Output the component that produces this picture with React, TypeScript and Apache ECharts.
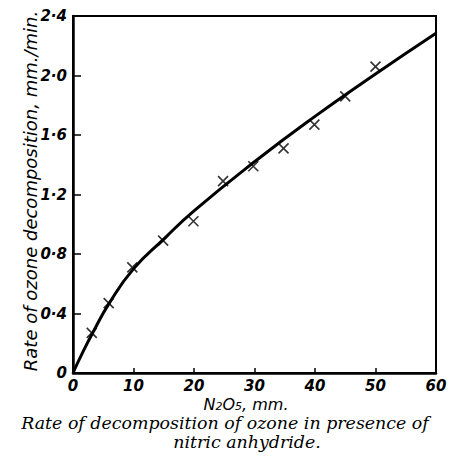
import React, { useEffect, useRef } from "react";
import * as echarts from "echarts";

const obsX = [3.1, 5.9, 9.8, 14.9, 19.9, 24.8, 29.8, 34.8, 39.9, 45.0, 50.0];
const obsY = [0.27, 0.47, 0.71, 0.89, 1.02, 1.29, 1.39, 1.51, 1.67, 1.86, 2.06];

const curveX = [0, 1.5, 3.2, 6, 10, 15, 20, 30, 40, 50, 60];
const curveY = [0, 0.13, 0.265, 0.47, 0.7, 0.9, 1.09, 1.42, 1.725, 2.01, 2.284];

const xTicks = [0, 10, 20, 30, 40, 50, 60];
const yTicks = [0, 0.4, 0.8, 1.2, 1.6, 2.0, 2.4];

const yTitle = "Rate of ozone decomposition, mm./min.";
const captionLines = ["Rate of decomposition of ozone in presence of", "nitric anhydride."];

const labelFont = {
  fontFamily: "DejaVu Sans",
  fontStyle: "italic" as const,
  fontWeight: "bold" as const,
  fontSize: 15,
  color: "#000",
};

export default function App() {
  const ref = useRef<HTMLDivElement>(null);
  useEffect(() => {
    if (!ref.current) return;
    const chart = echarts.init(ref.current, null, { renderer: "svg" });
    const option: any = {
      animation: false,
      backgroundColor: "#fff",
      grid: {
        left: 73,
        top: 16,
        right: 17,
        bottom: 89,
        show: true,
        borderColor: "#000",
        borderWidth: 2,
        backgroundColor: "transparent",
      },
      xAxis: {
        type: "value",
        min: xTicks[0],
        max: xTicks[xTicks.length - 1],
        interval: 10,
        axisLine: { lineStyle: { color: "#000", width: 2.5 } },
        axisTick: { inside: true, length: 5, lineStyle: { color: "#000", width: 1.5 } },
        splitLine: { show: false },
        axisLabel: { ...labelFont, margin: 6, lineHeight: 14 },
      },
      yAxis: {
        type: "value",
        min: yTicks[0],
        max: yTicks[yTicks.length - 1],
        interval: 0.4,
        axisLine: { show: true, lineStyle: { color: "#000", width: 2.5 } },
        axisTick: { show: true, inside: true, length: 8, lineStyle: { color: "#000", width: 1.5 } },
        splitLine: { show: false },
        axisLabel: {
          ...labelFont,
          margin: 6,
          formatter: (v: number) => (v === 0 ? "0" : v.toFixed(1).replace(".", "·")),
        },
      },
      series: [
        {
          type: "line",
          data: curveX.map((x, i) => [x, curveY[i]]),
          smooth: 0.5,
          symbol: "none",
          lineStyle: { color: "#000", width: 3 },
          z: 2,
        },
        {
          type: "scatter",
          data: obsX.map((x, i) => [x, obsY[i]]),
          symbol: "path://M0,0L10,10M10,0L0,10",
          symbolSize: 10,
          itemStyle: { color: "none", borderColor: "#000", borderWidth: 1.6 },
          z: 3,
        },
      ],
      graphic: [
        {
          type: "text",
          x: 30,
          y: 191,
          rotation: Math.PI / 2,
          style: {
            text: yTitle,
            fontFamily: "DejaVu Sans",
            fontStyle: "italic",
            fontSize: 18,
            fill: "#000",
            align: "center",
            verticalAlign: "middle",
          },
        },
        {
          type: "text",
          x: 246,
          y: 406,
          style: {
            rich: {
              a: { fontFamily: "DejaVu Sans", fontStyle: "italic", fontSize: 16, lineHeight: 12, fill: "#000", verticalAlign: "bottom" },
              s: { fontFamily: "DejaVu Sans", fontStyle: "italic", fontSize: 11, lineHeight: 8, fill: "#000", verticalAlign: "bottom" },
            },
            text: "{a|N}{s|2}{a|O}{s|5}{a|, mm.}",
            align: "center",
            verticalAlign: "middle",
          },
        },
        {
          type: "text",
          x: 225,
          y: 423,
          style: {
            text: captionLines[0],
            fontFamily: "DejaVu Serif",
            fontStyle: "italic",
            fontSize: 17.4,
            lineHeight: 14,
            fill: "#000",
            align: "center",
            verticalAlign: "middle",
          },
        },
        {
          type: "text",
          x: 247,
          y: 442,
          style: {
            text: captionLines[1],
            fontFamily: "DejaVu Serif",
            fontStyle: "italic",
            fontSize: 17.4,
            lineHeight: 14,
            fill: "#000",
            align: "center",
            verticalAlign: "middle",
          },
        },
      ],
    };
    chart.setOption(option);
    return () => chart.dispose();
  }, []);
  return <div ref={ref} style={{ width: 453, height: 462, position: "absolute", left: 0, top: 0 }} />;
}
